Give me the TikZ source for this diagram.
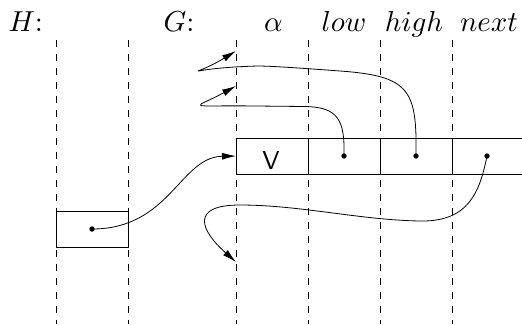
\documentclass[tikz,border=0pt]{standalone}
\usepackage{amsmath,amssymb}
\usepackage{tikz}
\usetikzlibrary{arrows.meta}
\tikzset{
  every picture/.style={line join=round, line cap=round, >={Latex[length=14bp,width=7bp]}},
  guide/.style={dashed, dash pattern=on 6.5bp off 7.5bp, line width=0.7bp, line cap=butt},
  cell/.style={draw, line width=0.9bp, minimum width=72bp, minimum height=36bp, inner sep=0pt, outer sep=0pt},
  link/.style={line width=0.8bp},
  lbl/.style={anchor=base, inner sep=0pt, scale=2.9, transform shape},
  vtxt/.style={inner sep=0pt, font=\sffamily, scale=2.6, transform shape},
}

\begin{document}
\begin{tikzpicture}[x=1bp,y=-1bp]
\useasboundingbox (0,0) rectangle (522,324);
% column guides
\foreach \x in {56,128,236,308,380,452}
  \draw[guide] (\x,40) -- (\x,324);
% labels
\node[lbl,anchor=base west] (hlab) at (8,31.5) {$H$:};
\node[lbl,anchor=base west] (glab) at (163,31.5) {$G$:};
\node[lbl] (alab) at (273.5,31.5) {$\alpha$};
\node[lbl] (llab) at (344,31.5) {$low$};
\node[lbl] (hilab) at (414,31.5) {$high$};
\node[lbl] (nlab) at (489,31.5) {$next$};
% the record in G
\node[cell,draw=none,minimum width=70bp] (nx) at (487,156) {};
\draw[line width=0.9bp] (nx.north west) -- (nx.north east);
\draw[line width=0.9bp] (nx.south west) -- (nx.south east);
\node[cell,fill=white] (av) at (272,156) {};
\node[cell,fill=white] (lo) at (344,156) {};
\node[cell,fill=white] (hi) at (416,156) {};
\node[vtxt] (vv) at (271,160.5) {V};
% the cell in H
\node[cell,fill=white] (hb) at (92,229) {};
% arrow ends
\coordinate (t1) at (236,51);
\coordinate (t2) at (236,86);
\coordinate (t4) at (236,262);
\foreach \n in {lo,hi,nx,hb}
  \fill (\n.center) circle[radius=2.7bp];
% pointers
\draw[link,->] (hi.center) .. controls (417,90) and (410,76) .. (340,71)
  .. controls (300,68) and (270,66) .. (258,66)
  .. controls (180,68) and (188,80) .. (t1);
\draw[link,->] (lo.center) .. controls (345,120) and (338,107) .. (305,106.5)
  -- (256,106) .. controls (183,105) and (192,110) .. (t2);
\draw[link,->] (hb.center) .. controls (170,229) and (180,157) .. (av.west);
\draw[link,->] (nx.center) .. controls (480,190) and (470,222) .. (420,221)
  .. controls (360,220) and (300,205) .. (240,205)
  .. controls (190,205) and (200,230) .. (t4);
\end{tikzpicture}
\end{document}
